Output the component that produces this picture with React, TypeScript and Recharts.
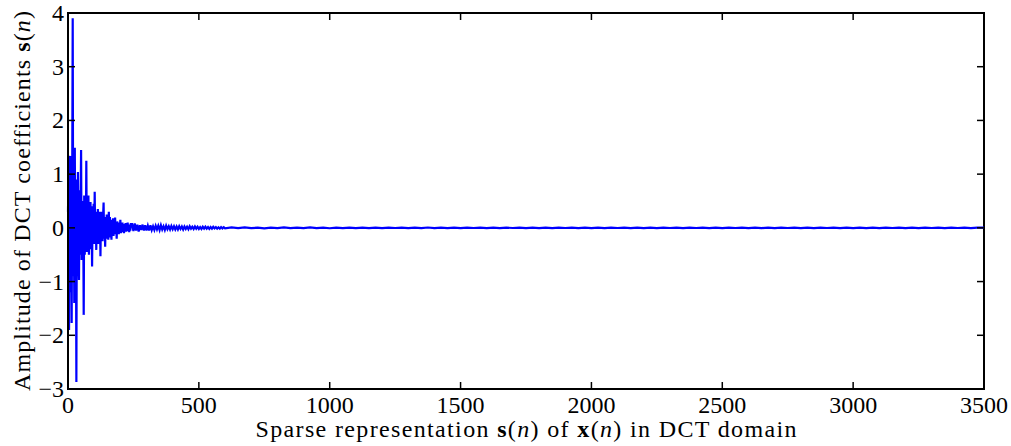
import React from 'react';
import { LineChart, Line, XAxis, YAxis, Label, ReferenceArea } from 'recharts';

// first part of the spectrum (n = 0, 2, 4, ... 240) -- the big DCT coefficients
const headStart = 0;
const headStep = 2;
const headValues = [
  0.3, 1.1, -1.9, 0.9, 1.34, -1.2, 0.5, -1.77, 0.8, 3.9,
  -0.9, 1.2, -1.4, 1.49, -0.8, 0.6, -2.87, 0.9, -0.7, 1.04,
  -0.6, -0.97, 0.7, -0.5, 0.4, 1.45, -0.6, 0.5, -0.4, 0.3,
  -1.62, 0.6, -0.5, 0.4, -0.3, 1.25, -0.45, 0.5, -0.3, 0.6,
  -0.5, 0.35, -0.4, 0.48, -0.3, 0.4, -0.72, 0.3, -0.25, 0.45,
  -0.3, 0.67, -0.2, 0.3, -0.41, 0.25, -0.3, 0.35, -0.2, 0.2,
  -0.3, 0.3, -0.53, 0.2, -0.2, 0.3, -0.25, 0.2, 0.47, -0.2,
  0.15, -0.35, 0.2, -0.15, 0.25, -0.2, 0.15, -0.22, 0.3, -0.15,
  0.2, -0.18, 0.12, -0.22, 0.15, -0.12, 0.18, -0.15, 0.12, -0.1,
  0.19, -0.12, 0.1, -0.2, 0.12, -0.1, 0.08, -0.12, 0.1, -0.08,
  0.15, -0.1, 0.08, -0.07, 0.1, -0.08, 0.06, -0.1, 0.07, -0.06,
  0.09, -0.07, 0.06, -0.05, 0.1, -0.06, 0.05, -0.08, 0.06, -0.05,
  0.07,
];

// decaying part (n = 245 ... 600)
const midStart = 245;
const midStep = 5;
const midValues = [
  0.07, -0.06, 0.08, -0.05, 0.06, -0.07, 0.05, -0.04, 0.06, -0.05,
  0.05, -0.05, 0.04, -0.05, 0.05, -0.04, 0.03, -0.04, 0.04, -0.03,
  0.04, -0.04, 0.05, -0.03, 0.03, -0.04, 0.04, -0.025, 0.03, -0.03,
  0.035, -0.025, 0.03, -0.03, 0.025, -0.03, 0.03, -0.02, 0.025, -0.03,
  0.025, -0.02, 0.02, -0.025, 0.03, -0.015, 0.02, -0.02, 0.025, -0.015,
  0.02, -0.02, 0.015, -0.02, 0.02, -0.015, 0.02, -0.015, 0.015, -0.02,
  0.015, -0.015, 0.02, -0.01, 0.015, -0.015, 0.01, -0.015, 0.015, -0.01,
  0.012, -0.01,
];

// near-zero tail (n = 625 ... 3500)
const tailStart = 625;
const tailStep = 25;
const tailValues = [
  0.008, -0.005, 0.01, -0.006, 0.004, -0.008, 0.006, -0.004, 0.008, -0.005,
  0.004, -0.006, 0.008, -0.004, 0.005, -0.007, 0.004, -0.005, 0.006, -0.004,
  0.005, -0.004, 0.003, -0.006, 0.005, -0.003, 0.006, -0.004, 0.004, -0.005,
  0.007, -0.004, 0.003, -0.005, 0.004, -0.006, 0.005, -0.003, 0.004, -0.004,
  0.006, -0.005, 0.004, -0.003, 0.005, -0.004, 0.003, -0.005, 0.006, -0.004,
  0.004, -0.003, 0.005, -0.004, 0.004, -0.005, 0.003, -0.004, 0.005, -0.003,
  0.004, -0.005, 0.006, -0.004, 0.003, -0.004, 0.005, -0.003, 0.004, -0.004,
  0.005, -0.003, 0.004, -0.005, 0.003, -0.004, 0.004, -0.003, 0.005, -0.004,
  0.003, -0.004, 0.004, -0.005, 0.006, -0.003, 0.004, -0.004, 0.003, -0.005,
  0.004, -0.003, 0.005, -0.004, 0.003, -0.004, 0.004, -0.005, 0.003, -0.004,
  0.005, -0.003, 0.004, -0.004, 0.003, -0.005, 0.004, -0.003, 0.004, -0.004,
  0.005, -0.003, 0.004, -0.004, 0.003, 0.004,
];

const xTicks = [0, 500, 1000, 1500, 2000, 2500, 3000, 3500];
const yTicks = [-3, -2, -1, 0, 1, 2, 3, 4];

const data = [
  ...headValues.map((s, i) => ({ n: headStart + i * headStep, s })),
  ...midValues.map((s, i) => ({ n: midStart + i * midStep, s })),
  ...tailValues.map((s, i) => ({ n: tailStart + i * tailStep, s })),
];

const W = 1011;
const H = 446;
const M = { top: 13, right: 27, bottom: 0, left: 8 };
const Y_AXIS_W = 60;
const X_AXIS_H = 57;
const PLOT_LEFT = M.left + Y_AXIS_W;
const PLOT_RIGHT = W - M.right;
const PLOT_TOP = M.top;
const PLOT_BOTTOM = H - M.bottom - X_AXIS_H;
const TICK_LEN = 7;

const FONT = '"Liberation Serif", "Times New Roman", serif';
const fmt = (v: number) => (v < 0 ? `\u2212${-v}` : `${v}`);

// MATLAB style: ticks point inward, mirrored on the opposite side of the box
const XTick = (props: any) => {
  const { x, y, payload } = props;
  return (
    <g>
      <line x1={x} x2={x} y1={PLOT_BOTTOM} y2={PLOT_BOTTOM - TICK_LEN} stroke="#000" strokeWidth={1.5} />
      <line x1={x} x2={x} y1={PLOT_TOP} y2={PLOT_TOP + TICK_LEN} stroke="#000" strokeWidth={1.5} />
      <text x={x} y={y + 24} textAnchor="middle" fontFamily={FONT} fontSize={24} fill="#000">
        {payload.value}
      </text>
    </g>
  );
};

const YTick = (props: any) => {
  const { x, y, payload } = props;
  return (
    <g>
      <line x1={PLOT_LEFT} x2={PLOT_LEFT + TICK_LEN} y1={y} y2={y} stroke="#000" strokeWidth={1.5} />
      <line x1={PLOT_RIGHT - TICK_LEN} x2={PLOT_RIGHT} y1={y} y2={y} stroke="#000" strokeWidth={1.5} />
      <text x={x} y={y + 8} textAnchor="end" fontFamily={FONT} fontSize={24} fill="#000">
        {fmt(payload.value)}
      </text>
    </g>
  );
};

const XLabel = (props: any) => {
  const { viewBox } = props;
  const cx = viewBox.x + viewBox.width / 2;
  return (
    <text
      x={cx}
      y={437}
      textAnchor="middle"
      fontFamily={FONT}
      fontSize={24}
      fill="#000"
      textLength={541}
      lengthAdjust="spacing"
    >
      Sparse representation <tspan fontWeight="bold">s</tspan>(<tspan fontStyle="italic">n</tspan>) of{' '}
      <tspan fontWeight="bold">x</tspan>(<tspan fontStyle="italic">n</tspan>) in DCT domain
    </text>
  );
};

const YLabel = (props: any) => {
  const { viewBox } = props;
  const cy = viewBox.y + viewBox.height / 2;
  return (
    <text
      x={30}
      y={cy}
      transform={`rotate(-90, 30, ${cy})`}
      textAnchor="middle"
      fontFamily={FONT}
      fontSize={24}
      fill="#000"
      textLength={380}
      lengthAdjust="spacing"
    >
      Amplitude of DCT coefficients <tspan fontWeight="bold">s</tspan>(<tspan fontStyle="italic">n</tspan>)
    </text>
  );
};

export default function App() {
  return (
    <div style={{ position: 'absolute', left: 0, top: 0, background: '#fff' }}>
      <LineChart width={W} height={H} data={data} margin={M}>
        <XAxis
          dataKey="n"
          type="number"
          domain={[0, 3500]}
          ticks={xTicks}
          height={X_AXIS_H}
          tickSize={0}
          tickMargin={0}
          tick={<XTick />}
          tickLine={false}
          axisLine={{ stroke: '#000', strokeWidth: 2 }}
          interval={0}
        >
          <Label content={<XLabel />} />
        </XAxis>
        <YAxis
          type="number"
          domain={[-3, 4]}
          ticks={yTicks}
          width={Y_AXIS_W}
          tickSize={0}
          tickMargin={4}
          tick={<YTick />}
          tickLine={false}
          axisLine={{ stroke: '#000', strokeWidth: 2 }}
          interval={0}
        >
          <Label content={<YLabel />} />
        </YAxis>
        <ReferenceArea x1={0} x2={3500} y1={-3} y2={4} fill="none" stroke="#000" strokeWidth={2} />
        <Line
          type="linear"
          dataKey="s"
          stroke="#0000ff"
          strokeWidth={2.2}
          dot={false}
          isAnimationActive={false}
        />
      </LineChart>
    </div>
  );
}
